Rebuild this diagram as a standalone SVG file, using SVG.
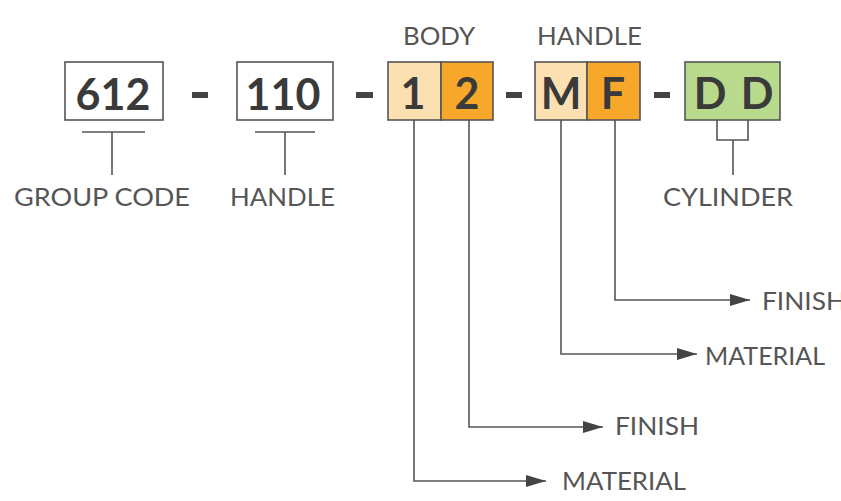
<svg xmlns="http://www.w3.org/2000/svg" width="841" height="501" viewBox="0 0 841 501">
<defs>
<style>
.box{stroke:#555;stroke-width:1.6}
.code{font-family:Lato,"Liberation Sans",sans-serif;font-weight:bold;font-size:43px;fill:#3a3a3a;text-anchor:middle}
.lbl{font-family:Lato,"Liberation Sans",sans-serif;font-size:25px;fill:#555}
.ln{fill:none;stroke:#555;stroke-width:1.6}
.dash{fill:#444}
</style>
<marker id="arr" viewBox="0 0 20 12" refX="20" refY="6" markerWidth="20" markerHeight="12" markerUnits="userSpaceOnUse" orient="auto">
<path d="M0,0 L20,6 L0,12 Z" fill="#444"/>
</marker>
</defs>
<rect width="841" height="501" fill="#fff"/>

<g id="dashes">
<rect class="dash" x="192" y="92" width="16" height="6"/>
<rect class="dash" x="356" y="92" width="17" height="6"/>
<rect class="dash" x="506" y="92" width="16" height="6"/>
<rect class="dash" x="654" y="92" width="16" height="6"/>
</g>

<g id="group-code">
<rect class="box" x="65" y="62" width="98" height="58" fill="#fff"/>
<text class="code" x="113" y="110">612</text>
<text class="lbl" x="14" y="206" textLength="176" lengthAdjust="spacingAndGlyphs">GROUP CODE</text>
</g>

<g id="handle-code">
<rect class="box" x="237" y="62" width="96" height="58" fill="#fff"/>
<text class="code" x="283" y="110">110</text>
<text class="lbl" x="230" y="206" textLength="105" lengthAdjust="spacingAndGlyphs">HANDLE</text>
</g>

<g id="body">
<text class="lbl" x="403" y="45" textLength="72" lengthAdjust="spacingAndGlyphs">BODY</text>
<rect class="box" x="388" y="62" width="53" height="58" fill="#FCE0B2"/>
<rect class="box" x="441" y="62" width="52" height="58" fill="#F7A72A"/>
<text class="code" x="413" y="109">1</text>
<text class="code" x="467" y="109">2</text>
</g>

<g id="handle-finish">
<text class="lbl" x="537" y="45" textLength="105" lengthAdjust="spacingAndGlyphs">HANDLE</text>
<rect class="box" x="535" y="62" width="52" height="58" fill="#FCE0B2"/>
<rect class="box" x="587" y="62" width="53" height="58" fill="#F7A72A"/>
<text class="code" x="561" y="109">M</text>
<text class="code" x="613" y="109">F</text>
</g>

<g id="cylinder">
<rect class="box" x="685" y="62" width="95" height="58" fill="#B9D98C"/>
<text class="code" x="710" y="109">D</text>
<text class="code" x="757" y="109">D</text>
<text class="lbl" x="663" y="206" textLength="130" lengthAdjust="spacingAndGlyphs">CYLINDER</text>
</g>

<g id="labels">
<text class="lbl" x="762" y="310" textLength="84" lengthAdjust="spacingAndGlyphs">FINISH</text>
<text class="lbl" x="705" y="365" textLength="120" lengthAdjust="spacingAndGlyphs">MATERIAL</text>
<text class="lbl" x="615" y="435" textLength="84" lengthAdjust="spacingAndGlyphs">FINISH</text>
<text class="lbl" x="562" y="490" textLength="124" lengthAdjust="spacingAndGlyphs">MATERIAL</text>
</g>

<g id="connectors">
<path class="ln" d="M82,132 H145 M112,132 V175"/>
<path class="ln" d="M255,132 H315 M285,132 V175"/>
<path class="ln" d="M717,120 V140 H748 V120 M733,140 V175"/>
<path class="ln" d="M615,120 V300 H750" marker-end="url(#arr)"/>
<path class="ln" d="M561,120 V354 H697" marker-end="url(#arr)"/>
<path class="ln" d="M469,120 V427 H603" marker-end="url(#arr)"/>
<path class="ln" d="M414,120 V481 H546" marker-end="url(#arr)"/>
</g>
</svg>
